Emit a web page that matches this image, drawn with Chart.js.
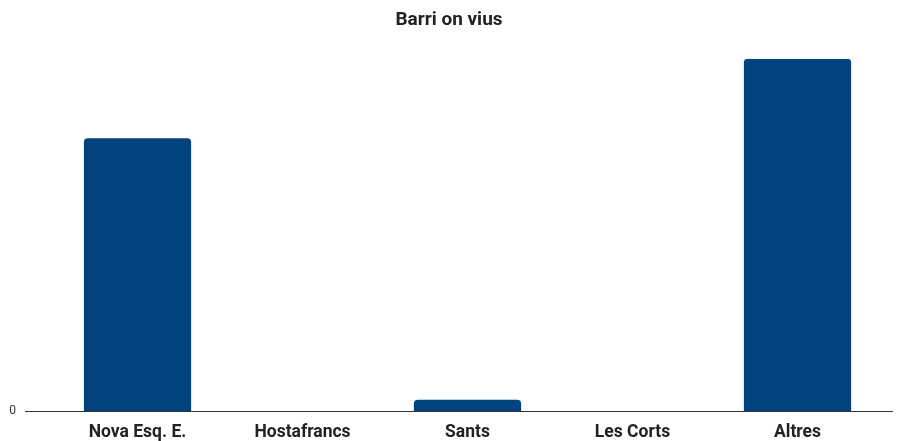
<!DOCTYPE html>
<html>
<head>
<meta charset="utf-8">
<script src="https://cdn.jsdelivr.net/npm/chart.js@4"></script>
<style>
html,body{margin:0;padding:0;background:#fff;}
#wrap{width:898px;height:441px;position:relative;}
</style>
</head>
<body>
<div id="wrap"><canvas id="c" width="898" height="441"></canvas></div>
<script>
const categories = ["Nova Esq. E.", "Hostafrancs", "Sants", "Les Corts", "Altres"];
const values = [24, 0, 1, 0, 31];
const yTicks = [0];
const titleText = "Barri on vius";

const baseline = {
  id: 'baseline',
  afterDatasetsDraw(chart) {
    const {ctx, scales: {y}} = chart;
    const py = Math.round(y.getPixelForValue(0)) + 0.5;
    ctx.save();
    ctx.strokeStyle = '#333333';
    ctx.lineWidth = 1;
    ctx.beginPath();
    ctx.moveTo(25, py);
    ctx.lineTo(893, py);
    ctx.stroke();
    ctx.restore();
  }
};

new Chart(document.getElementById('c'), {
  type: 'bar',
  data: {
    labels: categories,
    datasets: [{
      data: values,
      backgroundColor: '#01437f',
      borderRadius: {topLeft: 4, topRight: 4},
      borderSkipped: 'bottom',
      barPercentage: 0.65,
      categoryPercentage: 1.0
    }]
  },
  options: {
    responsive: false,
    animation: false,
    layout: {padding: 0},
    plugins: {
      legend: {display: false},
      tooltip: {enabled: false},
      title: {
        display: true,
        text: titleText,
        color: '#222222',
        font: {family: 'Roboto', size: 19, weight: 'bold'},
        padding: {top: 9, bottom: 27}
      }
    },
    scales: {
      x: {
        afterFit(scale) { scale.height = 30; },
        grid: {display: false, drawTicks: false},
        border: {display: false},
        ticks: {color: '#222222', font: {family: 'Roboto', size: 17.5, weight: 'bold'}, padding: 11, maxRotation: 0, autoSkip: false}
      },
      y: {
        min: 0,
        max: 31,
        afterBuildTicks(scale) { scale.ticks = yTicks.map(v => ({value: v})); },
        afterFit(scale) { scale.width = 55; scale.paddingTop = 0; scale.paddingBottom = 0; },
        grid: {display: false, drawTicks: false},
        border: {display: false},
        ticks: {color: '#333333', font: {family: 'Roboto', size: 12}, padding: 39}
      },
      yRight: {
        position: 'right',
        display: true,
        afterFit(scale) { scale.width = 18; scale.paddingTop = 0; scale.paddingBottom = 0; },
        grid: {display: false, drawTicks: false},
        border: {display: false},
        ticks: {display: false}
      }
    }
  },
  plugins: [baseline]
});
</script>
</body>
</html>
